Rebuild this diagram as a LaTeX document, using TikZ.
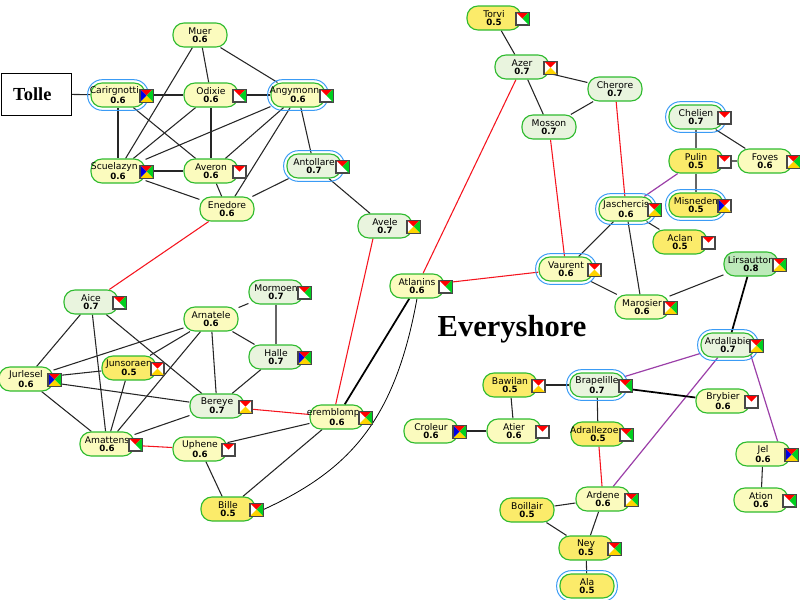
\documentclass[tikz,border=0pt]{standalone}
\usepackage{fontspec}
\setmainfont{DejaVu Sans}
\newfontfamily\titlefont{Liberation Serif}
\pgfdeclarelayer{bg}
\pgfsetlayers{bg,main}
\definecolor{cpale}{HTML}{FBFBBE}
\definecolor{cdeep}{HTML}{FBEB6A}
\definecolor{cpgreen}{HTML}{E9F4DE}
\definecolor{cgreen}{HTML}{BDEABA}
\definecolor{cborder}{HTML}{2FBB2F}
\definecolor{chalo}{HTML}{3A9BF5}
\definecolor{cpurple}{HTML}{9B3FA8}
\definecolor{cred}{HTML}{F5141E}
\definecolor{cgrey}{HTML}{666666}
\definecolor{ctriy}{HTML}{FFD400}
\definecolor{ctrig}{HTML}{00D020}
\tikzset{
  x=0.75pt,y=-0.75pt,
  bnbox/.style={draw=cborder,line width=0.85pt,rectangle,rounded corners=8.2pt,minimum width=40.5pt,minimum height=18pt,
    text width=40.5pt,align=center,inner sep=0pt,font=\fontsize{6.9pt}{6.2pt}\selectfont},
  halobox/.style={draw=chalo,line width=0.75pt,rectangle,rounded corners=11pt,minimum width=45.5pt,minimum height=23pt,inner sep=0pt},
  icobox/.style={draw=black!72,line width=0.9pt,fill=white,minimum size=9pt,inner sep=0pt,rectangle},
  edge/.style={draw=black!85,line width=0.8pt},
  thickedge/.style={draw=black,line width=1.3pt},
  greyedge/.style={draw=cgrey,line width=1.1pt},
  rededge/.style={draw=cred,line width=0.8pt},
  purpleedge/.style={draw=cpurple,line width=0.9pt},
}
\newcommand{\bn}[6]{\node[bnbox,fill=#6] (#1) at (#2,#3) {\makebox[0pt][c]{#4}\\[-0.3pt]\makebox[0pt][c]{\fontsize{6.5pt}{6.2pt}\selectfont\bfseries #5}};}
\newcommand{\hbn}[6]{\node[halobox] (#1h) at (#2,#3) {};\bn{#1}{#2}{#3}{#4}{#5}{#6}}
\newcommand{\lft}[1]{\hspace*{-5.5pt}#1}
\newcommand{\trir}[1]{\fill[red] (#1.north west)--(#1.north east)--(#1.center)--cycle;}
\newcommand{\trig}[1]{\fill[ctrig] (#1.north east)--(#1.south east)--(#1.center)--cycle;}
\newcommand{\triy}[1]{\fill[ctriy] (#1.south east)--(#1.south west)--(#1.center)--cycle;}
\newcommand{\trib}[1]{\fill[blue!90!black] (#1.south west)--(#1.north west)--(#1.center)--cycle;}
\newcommand{\ico}[2]{\node[icobox] (#1i) at ([shift={(28.5,0.7)}]#1.center) {};
  \foreach \k in {#2} {\csname tri\k\endcsname{#1i}}
  \draw[black!72,line width=0.9pt] (#1i.north west) rectangle (#1i.south east);}
\begin{document}
\begin{tikzpicture}
\useasboundingbox (0,0) rectangle (800,600);
\node[draw=black,line width=0.6pt,fill=white,minimum width=52.5pt,minimum height=31.5pt,inner sep=0pt,font=\titlefont\bfseries\fontsize{13.8pt}{14pt}\selectfont] (tolle) at (36,94) {\hspace*{-5.5pt}Tolle};
\node[inner sep=0pt,font=\titlefont\bfseries\fontsize{22.9pt}{24pt}\selectfont] (everyshore) at (512,329.5) {Everyshore};
\bn{muer}{200}{35}{Muer}{0.6}{cpale}
\hbn{carir}{118}{95}{\lft{Carirgnotti}}{0.6}{cpale}\ico{carir}{r,g,y,b}
\bn{odixie}{211}{95}{Odixie}{0.6}{cpale}\ico{odixie}{r,g}
\hbn{angy}{298}{95}{\lft{Angymonn}}{0.6}{cpale}\ico{angy}{r,g}
\bn{scue}{118}{171}{\lft{Scuelazyn}}{0.6}{cpale}\ico{scue}{r,g,y,b}
\bn{averon}{211}{171}{Averon}{0.6}{cpale}\ico{averon}{r}
\bn{enedore}{227}{209}{Enedore}{0.6}{cpale}
\hbn{antol}{314}{166}{Antollare}{0.7}{cpgreen}\ico{antol}{r,g}
\bn{avele}{385}{226}{Avele}{0.7}{cpgreen}\ico{avele}{r,g,y}
\bn{aice}{91}{302}{Aice}{0.7}{cpgreen}\ico{aice}{r,g}
\bn{mormoen}{276}{292}{Mormoen}{0.7}{cpgreen}\ico{mormoen}{r,g}
\bn{arnatele}{211}{319}{Arnatele}{0.6}{cpale}
\bn{halle}{276}{357}{Halle}{0.7}{cpgreen}\ico{halle}{r,g,y,b}
\bn{jurlesel}{26}{379}{Jurlesel}{0.6}{cpale}\ico{jurlesel}{r,g,y,b}
\bn{junso}{129}{368}{Junsoraen}{0.5}{cdeep}\ico{junso}{r,y}
\bn{bereye}{217}{406}{Bereye}{0.7}{cpgreen}\ico{bereye}{r,y}
\bn{amattens}{107}{444}{Amattens}{0.6}{cpale}\ico{amattens}{r,g}
\bn{uphene}{200}{449}{Uphene}{0.6}{cpale}\ico{uphene}{r}
\bn{bille}{228}{509}{Bille}{0.5}{cdeep}\ico{bille}{r,g,y}
\bn{erem}{337}{417}{\lft{eremblomp}}{0.6}{cpale}\ico{erem}{r,g,y}
\bn{torvi}{494}{18}{Torvi}{0.5}{cdeep}\ico{torvi}{r,g}
\bn{azer}{522}{67}{Azer}{0.7}{cpgreen}\ico{azer}{r,y}
\bn{cherore}{615}{89}{Cherore}{0.7}{cpgreen}
\bn{mosson}{549}{127}{Mosson}{0.7}{cpgreen}
\hbn{chelien}{696}{117}{Chelien}{0.7}{cpgreen}\ico{chelien}{r}
\bn{pulin}{696}{161}{Pulin}{0.5}{cdeep}\ico{pulin}{r}
\bn{foves}{765}{161}{Foves}{0.6}{cpale}\ico{foves}{r,g,y}
\hbn{misneden}{696}{205}{Misneden}{0.5}{cdeep}\ico{misneden}{r,y,b}
\hbn{jascher}{626}{209}{Jaschercis}{0.6}{cpale}\ico{jascher}{r,g,y}
\bn{aclan}{680}{242}{Aclan}{0.5}{cdeep}\ico{aclan}{r}
\hbn{vaurent}{566}{269}{Vaurent}{0.6}{cpale}\ico{vaurent}{r,y}
\bn{lirs}{751}{264}{Lirsautton}{0.8}{cgreen}\ico{lirs}{r,g,y}
\bn{atlanins}{417}{286}{Atlanins}{0.6}{cpale}\ico{atlanins}{r,g}
\bn{marosier}{642}{307}{Marosier}{0.6}{cpale}\ico{marosier}{r,g,y}
\hbn{ardal}{728}{345}{Ardallabie}{0.7}{cpgreen}\ico{ardal}{r,g,y}
\hbn{brape}{597}{385}{Brapelille}{0.7}{cpgreen}\ico{brape}{r,g}
\bn{bawilan}{510}{385}{Bawilan}{0.5}{cdeep}\ico{bawilan}{r,y}
\bn{brybier}{723}{401}{Brybier}{0.6}{cpale}\ico{brybier}{r}
\bn{croleur}{431}{431}{Croleur}{0.6}{cpale}\ico{croleur}{r,g,y,b}
\bn{atier}{514}{431}{Atier}{0.6}{cpale}\ico{atier}{r}
\bn{adral}{598}{434}{\lft{Adrallezoe}}{0.5}{cdeep}\ico{adral}{r,g}
\bn{jel}{763}{454}{Jel}{0.6}{cpale}\ico{jel}{r,g,y,b}
\bn{ation}{761}{500}{Ation}{0.6}{cpale}\ico{ation}{r,g}
\bn{ardene}{603}{499}{Ardene}{0.6}{cpale}\ico{ardene}{r,g,y}
\bn{boillair}{527}{510}{Boillair}{0.5}{cdeep}
\bn{ney}{586}{548}{Ney}{0.5}{cdeep}\ico{ney}{r,g,y}
\hbn{ala}{587}{586}{Ala}{0.5}{cdeep}
\begin{pgfonlayer}{bg}
\foreach \a/\b in {muer/scue,muer/odixie,muer/angy,tolle/carir,carir/odixie,odixie/angy,carir/scue,carir/averon,odixie/scue,odixie/averon,angy/scue,angy/averon,angy/enedore,angy/antol,scue/averon,scue/enedore,averon/enedore,enedore/antol,antol/avele,
 aice/jurlesel,aice/amattens,aice/bereye,arnatele/mormoen,arnatele/halle,arnatele/bereye,arnatele/jurlesel,arnatele/junso,arnatele/amattens,halle/bereye,jurlesel/junso,jurlesel/bereye,jurlesel/amattens,junso/amattens,bereye/amattens,uphene/erem,uphene/bille,erem/bille,
 torvi/azer,azer/cherore,azer/mosson,cherore/mosson,chelien/foves,jascher/aclan,jascher/vaurent,jascher/marosier,vaurent/marosier,marosier/lirs,bawilan/brape,bawilan/atier,croleur/atier,brape/adral,ardene/boillair,ardene/ney,boillair/ney,ney/ala,jel/ation}
  \draw[edge] (\a) -- (\b);
\foreach \a/\b in {enedore/aice,azer/atlanins,mosson/vaurent,cherore/jascher,atlanins/vaurent,bereye/erem,amattens/uphene,adral/ardene}
  \draw[rededge] (\a) -- (\b);
\draw[rededge] ([xshift=-9]avele.south) -- ([xshift=-1]erem.north);
\foreach \a/\b in {pulin/jascher,ardal/brape,ardal/ardene}
  \draw[purpleedge] (\a) -- (\b);
\draw[purpleedge] (ardali.south west) -- ([xshift=11]jel.north);
\foreach \a/\b in {mormoen/halle,chelien/pulin,pulin/foves,pulin/misneden}
  \draw[greyedge] (\a) -- (\b);
\foreach \a/\b in {lirs/ardal,atlanins/erem,brape/brybier}
  \draw[thickedge] (\a) -- (\b);
\draw[black,line width=0.6pt] (billei.east) .. controls (350,470) and (395,420) .. (atlanins.south);
\end{pgfonlayer}
\end{tikzpicture}
\end{document}
